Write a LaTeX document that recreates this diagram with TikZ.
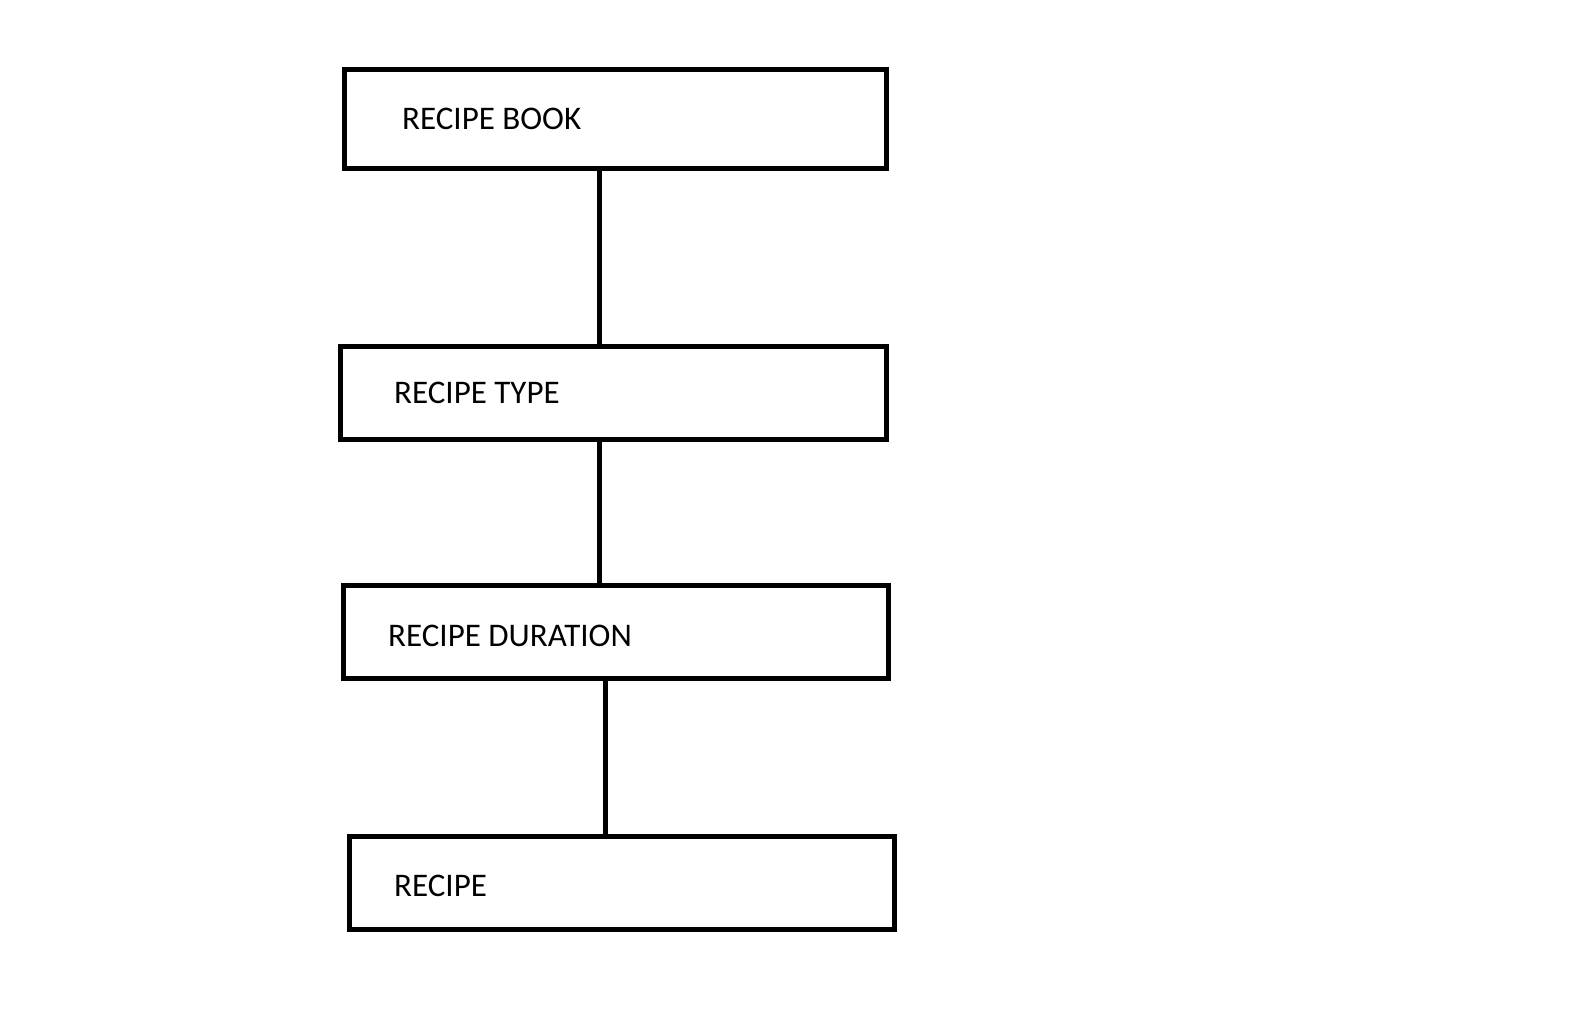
\documentclass[tikz,border=0pt]{standalone}
\usepackage{fontspec}
\setmainfont{Carlito}
\begin{document}
\begin{tikzpicture}[x=1pt,y=-1pt,
  box/.style={draw=black,line width=5pt,minimum width=#1,minimum height=93pt,inner sep=0pt,outer sep=0pt},
  lbl/.style={anchor=west,inner sep=0pt,font=\fontsize{33}{40}\selectfont},
  conn/.style={draw=black,line width=4.5pt}]
\fill[white] (0,0) rectangle (1595,1023);
\useasboundingbox (0,0) rectangle (1595,1023);
\node[box=542pt,minimum height=99pt] (b1) at (615.5,119) {};
\node[box=545.5pt] (b2) at (613.25,393) {};
\node[box=545pt] (b3) at (616.3,631.7) {};
\node[box=544.7pt] (b4) at (621.85,883) {};
\node[lbl] (t1) at (402,119) {RECIPE BOOK};
\node[lbl] (t2) at (394,392.5) {RECIPE TYPE};
\node[lbl] (t3) at (388,635.5) {RECIPE DURATION};
\node[lbl] (t4) at (394,886) {RECIPE};
\coordinate (c1) at (599.5,0);
\coordinate (c3) at (605.3,0);
\draw[conn] (b1.south -| c1) -- (b2.north -| c1);
\draw[conn] (b2.south -| c1) -- (b3.north -| c1);
\draw[conn] (b3.south -| c3) -- (b4.north -| c3);
\end{tikzpicture}
\end{document}
